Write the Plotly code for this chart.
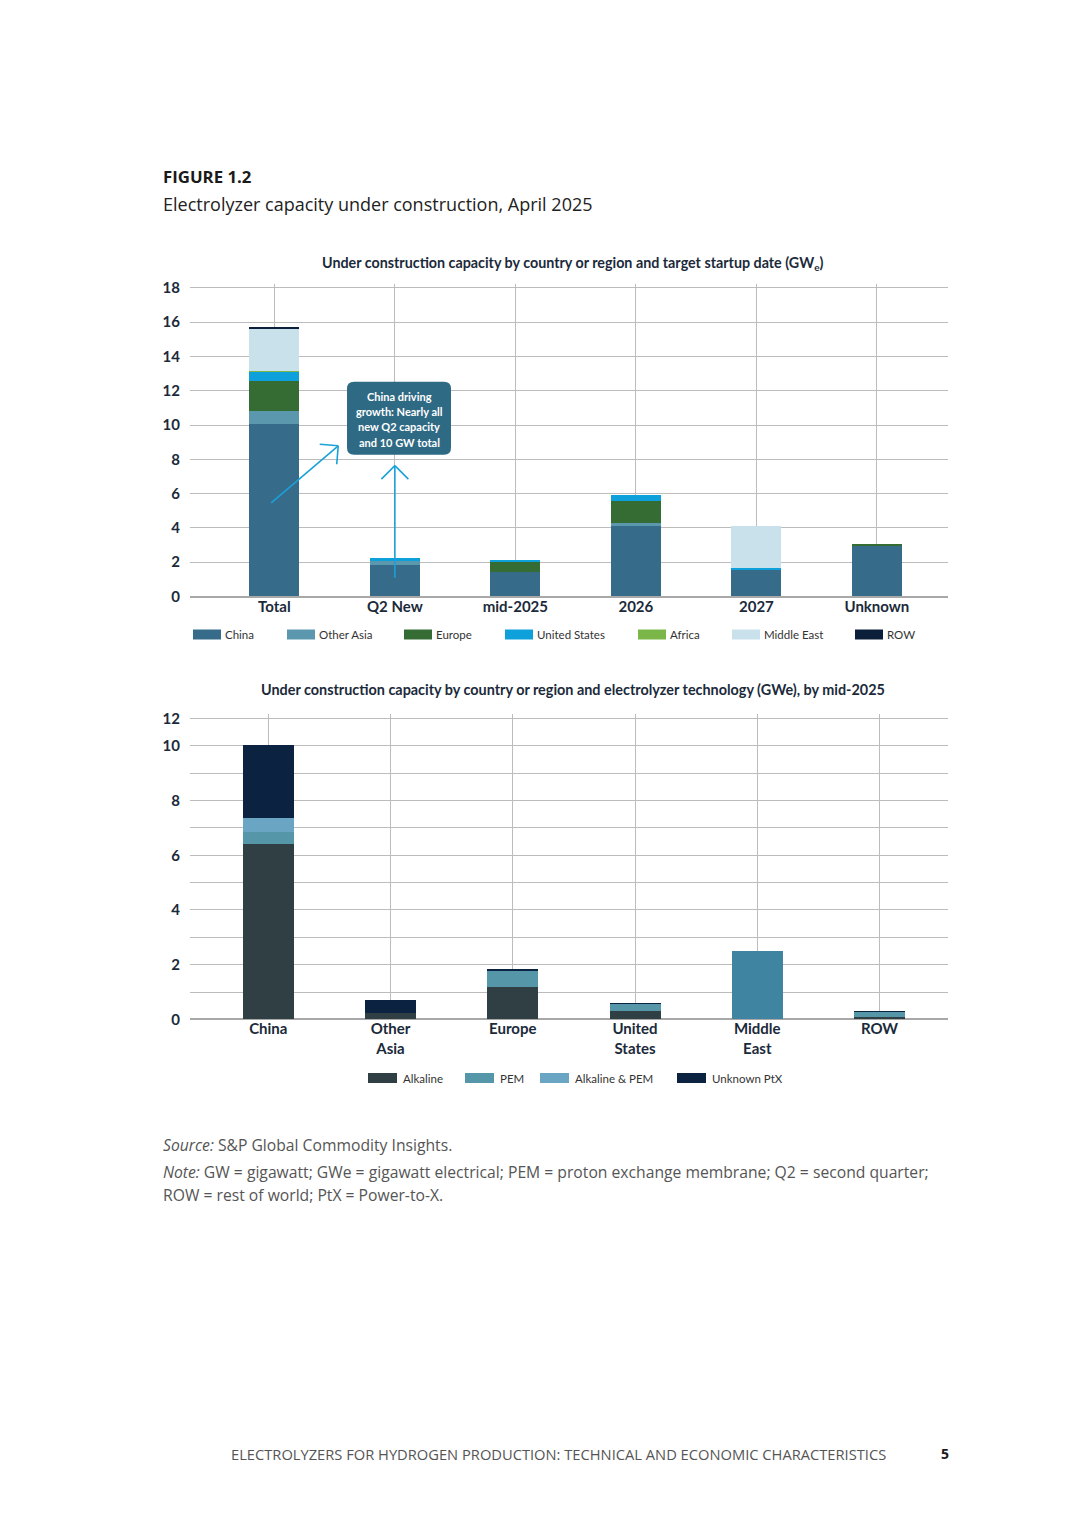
import plotly.graph_objects as go

# page is 1080x1527; browser body has an 8px margin, so the figure is 16px smaller
PAGE_W, PAGE_H = 1080, 1527
FW, FH = PAGE_W - 16, PAGE_H - 16
# vertical correction measured from the rendered page
YS, YO = 0.9918, 4.9

# ---------------- data ----------------
top_categories = ["Total", "Q2 New", "mid-2025", "2026", "2027", "Unknown"]
top_regions = ["China", "Other Asia", "Europe", "United States", "Africa", "Middle East", "ROW"]
china = [10.05, 1.80, 1.42, 4.08, 1.57, 2.95]
other_asia = [0.72, 0.30, 0.00, 0.21, 0.00, 0.00]
europe = [1.80, 0.00, 0.56, 1.26, 0.00, 0.08]
united_states = [0.52, 0.10, 0.14, 0.35, 0.10, 0.00]
africa = [0.02, 0.00, 0.00, 0.00, 0.00, 0.00]
middle_east = [2.52, 0.00, 0.00, 0.00, 2.45, 0.00]
row = [0.08, 0.00, 0.00, 0.00, 0.00, 0.00]
top_values = [china, other_asia, europe, united_states, africa, middle_east, row]
top_colors = ["#366b8a", "#5b98ae", "#356c34", "#0ea0da", "#7ab648", "#c8e1ea", "#0c1f3a"]
top_yticks = [0, 2, 4, 6, 8, 10, 12, 14, 16, 18]

bot_categories = ["China", "Other<br>Asia", "Europe", "United<br>States", "Middle<br>East", "ROW"]
bot_techs = ["Alkaline", "PEM", "Alkaline & PEM", "Unknown PtX"]
alkaline = [6.41, 0.22, 1.17, 0.29, 0.00, 0.07]
pem = [0.42, 0.00, 0.61, 0.27, 2.47, 0.19]
alkaline_pem = [0.53, 0.00, 0.00, 0.00, 0.00, 0.00]
unknown_ptx = [2.64, 0.49, 0.03, 0.02, 0.00, 0.02]
bot_values = [alkaline, pem, alkaline_pem, unknown_ptx]
bot_colors = ["#2f3f44", "#5596a8", "#6aa6c3", "#0b2240"]
bot_yticks = [0, 2, 4, 6, 8, 10, 11]
bot_yticktext = ["0", "2", "4", "6", "8", "10", "12"]
bot_minor_ticks = [1, 3, 5, 7, 9]

callout_lines = ["China driving", "growth: Nearly all", "new Q2 capacity", "and 10 GW total"]

# ---------------- helpers ----------------
def px(x):
    return (x - 8) / FW

def py(y):
    return 1 - (((y - YO) / YS) - 8) / FH

NARROW = "Lato, Roboto, sans-serif"
OPEN = "Open Sans, Noto Sans, sans-serif"
DARK = "#1b2a3a"
GRID = "#bcbcbc"

fig = go.Figure()

for name, vals, col in zip(top_regions, top_values, top_colors):
    fig.add_trace(go.Bar(x=top_categories, y=vals, name=name, marker=dict(color=col, line=dict(width=0)),
                         width=0.415, xaxis="x", yaxis="y", showlegend=False))

for name, vals, col in zip(bot_techs, bot_values, bot_colors):
    cols = [col] * len(vals)
    if name == "PEM":
        cols[4] = "#3f84a0"
    fig.add_trace(go.Bar(x=bot_categories, y=vals, name=name, marker=dict(color=cols, line=dict(width=0)),
                         width=0.417, xaxis="x2", yaxis="y2", showlegend=False))

tickfont = dict(family=NARROW, size=15, color=DARK, weight="bold")

xcommon = dict(type="category", showgrid=True, gridcolor=GRID, gridwidth=1.3, showline=False,
               ticks="", tickfont=tickfont, ticklabelstandoff=-1, fixedrange=True)
ycommon = dict(showgrid=True, gridcolor=GRID, gridwidth=1.3, zeroline=True,
               zerolinecolor="#a8a8a8", zerolinewidth=1.5, showline=False,
               ticks="outside", ticklen=6, tickcolor="rgba(0,0,0,0)", tickfont=tickfont, fixedrange=True)

fig.update_layout(
    width=FW, height=FH, margin=dict(l=0, r=0, t=0, b=0),
    paper_bgcolor="white", plot_bgcolor="white",
    barmode="stack", bargap=0,
    font=dict(family=NARROW, color=DARK),
    xaxis=dict(domain=[px(190), px(948)], range=[-0.70, 5.59], anchor="y", **xcommon),
    yaxis=dict(domain=[py(596), py(283.5)], range=[0, 18.2], tickvals=top_yticks, anchor="x", **ycommon),
    xaxis2=dict(domain=[px(190), px(948)], range=[-0.64, 5.56], anchor="y2", **xcommon),
    yaxis2=dict(domain=[py(1019.3), py(714)], range=[0, 11.15], tickvals=bot_yticks,
                ticktext=bot_yticktext, anchor="x2",
                minor=dict(tickvals=bot_minor_ticks, showgrid=True, gridcolor=GRID, gridwidth=1.3, ticks=""),
                **ycommon),
)

ann = []
shapes = []

def text(t, x, y, size, family=OPEN, color="#222222", xanchor="left"):
    ann.append(dict(text=t, x=px(x), y=py(y), xref="paper", yref="paper", xanchor=xanchor,
                    yanchor="middle", showarrow=False, font=dict(family=family, size=size, color=color)))

# Header
text("<b>FIGURE 1.2</b>", 161, 176, 16.8, color="#1a1a1a")
text("Electrolyzer capacity under construction, April 2025", 161, 203, 18)

# Chart titles
text("<b>Under construction capacity by country or region and target startup date (GW<sub>e</sub>)</b>",
     573, 263, 14.3, family=NARROW, color=DARK, xanchor="center")
text("<b>Under construction capacity by country or region and electrolyzer technology (GWe), by mid-2025</b>",
     573, 689, 14.4, family=NARROW, color=DARK, xanchor="center")

# Manual legends
top_leg_x = [193, 287, 404, 505, 638, 732, 855]
for name, col, x0 in zip(top_regions, top_colors, top_leg_x):
    shapes.append(dict(type="rect", xref="paper", yref="paper", x0=px(x0), x1=px(x0 + 28),
                       y0=py(639), y1=py(629), fillcolor=col, line=dict(width=0)))
    text(name, x0 + 30, 634.5, 11.5, family=NARROW, color="#333333")

bot_leg_x = [368, 465, 540, 677]
for name, col, x0 in zip(bot_techs, bot_colors, bot_leg_x):
    shapes.append(dict(type="rect", xref="paper", yref="paper", x0=px(x0), x1=px(x0 + 29),
                       y0=py(1083), y1=py(1073), fillcolor=col, line=dict(width=0)))
    text(name, x0 + 33, 1078.5, 11.5, family=NARROW, color="#333333")

# Callout box (rounded)
bx0, by0, bx1, by1, r = 347, 381, 451, 454, 7
path = (f"M {px(bx0 + r)} {py(by0)} L {px(bx1 - r)} {py(by0)} Q {px(bx1)} {py(by0)} {px(bx1)} {py(by0 + r)} "
        f"L {px(bx1)} {py(by1 - r)} Q {px(bx1)} {py(by1)} {px(bx1 - r)} {py(by1)} "
        f"L {px(bx0 + r)} {py(by1)} Q {px(bx0)} {py(by1)} {px(bx0)} {py(by1 - r)} "
        f"L {px(bx0)} {py(by0 + r)} Q {px(bx0)} {py(by0)} {px(bx0 + r)} {py(by0)} Z")
shapes.append(dict(type="path", xref="paper", yref="paper", path=path,
                   fillcolor="#2f6a85", line=dict(width=0)))
for i, line in enumerate(callout_lines):
    text(f"<b>{line}</b>", 399, 395.5 + i * 15.3, 11, family=NARROW, color="white", xanchor="center")

# Arrows (shaft + open chevron head), anchored at a data point, pixel offsets
ACOL = "#1ba1d9"
def seg(xa, ya, dx, dy):
    shapes.append(dict(type="line", xref="x", yref="y", xsizemode="pixel", ysizemode="pixel",
                       xanchor=xa, yanchor=ya, x0=0, y0=0, x1=dx, y1=dy,
                       line=dict(color=ACOL, width=1.6)))

# vertical arrow on Q2 New
seg(1, 7.63, 0, -112)
seg(1, 7.63, -13.5, -13.5)
seg(1, 7.63, 13.5, -13.5)
# diagonal arrow from Total
seg(0.53, 8.79, -67, -57)
seg(0.53, 8.79, -18.5, 1.5)
seg(0.53, 8.79, -1.5, -18.5)

# Source / notes
text("<i>Source:</i> S&P Global Commodity Insights.", 161, 1145, 15.7, color="#555555")
text("<i>Note:</i> GW = gigawatt; GWe = gigawatt electrical; PEM = proton exchange membrane; Q2 = second quarter;",
     161, 1172, 15.7, color="#555555")
text("ROW = rest of world; PtX = Power-to-X.", 161, 1195, 15.7, color="#555555")

# Footer
text("ELECTROLYZERS FOR HYDROGEN PRODUCTION: TECHNICAL AND ECONOMIC CHARACTERISTICS",
     558.5, 1454, 14.7, color="#555555", xanchor="center")
text("<b>5</b>", 945, 1454, 14, color="#1a1a1a", xanchor="center")

fig.update_layout(annotations=ann, shapes=shapes)

fig.write_html("out.html")
